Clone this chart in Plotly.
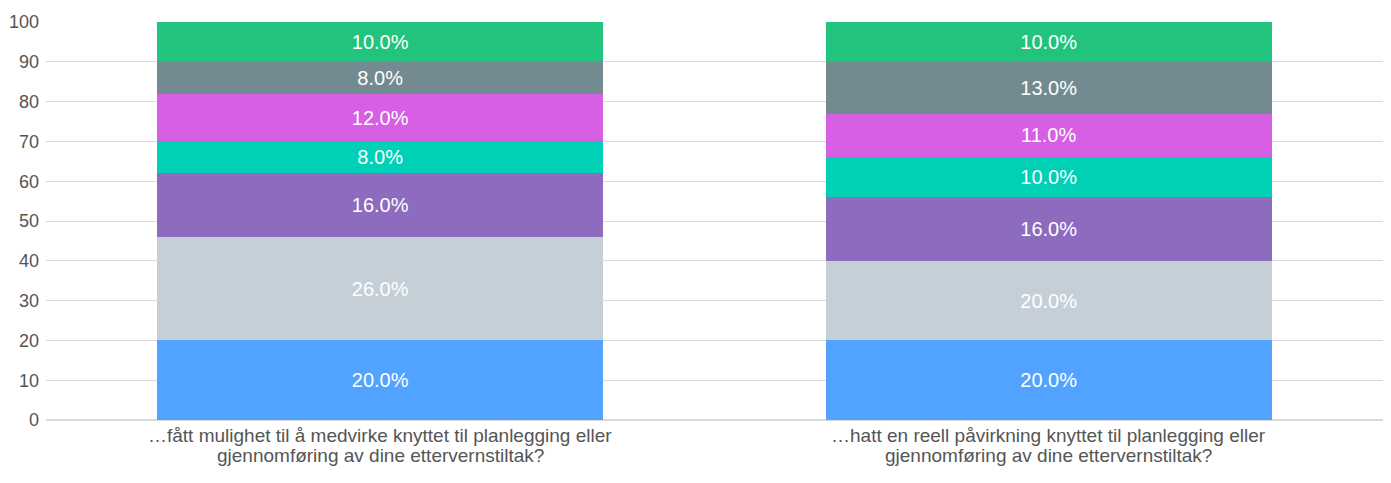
import plotly.graph_objects as go

categories = [
    "…fått mulighet til å medvirke knyttet til planlegging eller<br>gjennomføring av dine ettervernstiltak?",
    "…hatt en reell påvirkning knyttet til planlegging eller<br>gjennomføring av dine ettervernstiltak?",
]
series_names = ["1", "2", "3", "4", "5", "6", "7"]
series_values = [
    [20, 20],
    [26, 20],
    [16, 16],
    [8, 10],
    [12, 11],
    [8, 13],
    [10, 10],
]
colors = ["#52a2ff", "#c5cfd8", "#8d6bbf", "#00d0b5", "#d75fe3", "#738a90", "#22c47d"]

fig = go.Figure()
for name, vals, col in zip(series_names, series_values, colors):
    fig.add_trace(go.Bar(
        x=categories, y=vals, name=name, marker=dict(color=col, line=dict(width=0)),
        texttemplate="%{y:.1f}%", textposition="inside", insidetextanchor="middle",
        textangle=0, textfont=dict(color="white", size=20, family="Liberation Sans, Arial"),
    ))

# category labels as annotations so the two lines sit tighter than plotly's 1.3em spacing
for cat in categories:
    for i, line in enumerate(cat.split("<br>")):
        fig.add_annotation(x=cat, y=0, xref="x", yref="y", text=line, showarrow=False,
                           yanchor="top", yshift=-3 - 20 * i,
                           font=dict(size=19, color="#555555"))

# page body has an 8px margin, so the figure is sized/offset to compensate
fig.update_layout(
    barmode="stack", bargap=0.333, showlegend=False,
    width=1383, height=475,
    margin=dict(l=38, r=8, t=14, b=63),
    paper_bgcolor="white", plot_bgcolor="white",
    font=dict(family="Liberation Sans, Arial", color="#555555", size=18),
    uniformtext=dict(minsize=10, mode="show"),
)
fig.update_yaxes(
    range=[0, 100], dtick=10, showgrid=True, gridcolor="#d9d9d9", gridwidth=1,
    zeroline=True, zerolinecolor="#d9d9d9", ticks="", ticklabelstandoff=6,
    tickfont=dict(size=18, color="#555555"), automargin=False,
)
fig.update_xaxes(showticklabels=False, ticks="", showline=False, automargin=False)

fig.write_html("out.html")
